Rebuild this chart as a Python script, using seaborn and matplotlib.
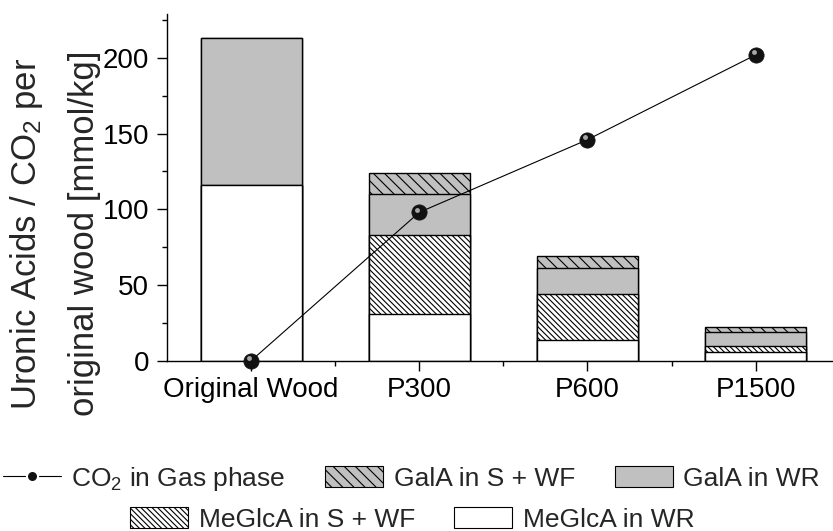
import numpy as np
import pandas as pd
import seaborn as sns
import matplotlib
matplotlib.use("Agg")
import matplotlib.pyplot as plt
from matplotlib.patches import Patch
from matplotlib.lines import Line2D
from matplotlib.ticker import MultipleLocator, FixedLocator
from matplotlib.transforms import offset_copy

# ---- data ----
samples = ["Original Wood", "P300", "P600", "P1500"]
meglca_wr = [116, 31, 14, 6]
meglca_swf = [0, 52, 30, 4]
gala_wr = [97, 27, 17, 9]
gala_swf = [0, 14, 8, 3]
co2_gas = [0, 98, 146, 202]

sns.set_theme(style="ticks")
plt.rcParams["font.family"] = ["Liberation Sans", "DejaVu Sans"]
plt.rcParams["mathtext.fontset"] = "custom"
plt.rcParams["mathtext.rm"] = "Liberation Sans"
plt.rcParams["mathtext.it"] = "Liberation Sans"
plt.rcParams["hatch.linewidth"] = 0.8
plt.rcParams["hatch.color"] = "black"

fig = plt.figure(figsize=(8.33, 5.31), dpi=100)
ax = fig.add_axes([0.2005, 0.3207, 0.7995, 0.6529])

GRAY = "#c0c0c0"
H_GALA = "\\\\\\"
H_MEG = "\\\\\\\\\\\\"
layers = [
    ("MeGlcA in WR", meglca_wr, "white", ""),
    ("MeGlcA in S + WF", meglca_swf, "white", H_MEG),
    ("GalA in WR", gala_wr, GRAY, ""),
    ("GalA in S + WF", gala_swf, GRAY, H_GALA),
]
cum = np.cumsum([np.array(l[1], dtype=float) for l in layers], axis=0)

# draw cumulative bars from the top layer down, so each lower layer overlays
for i in reversed(range(len(layers))):
    name, vals, col, hatch = layers[i]
    df = pd.DataFrame({"sample": samples, "value": cum[i]})
    sns.barplot(data=df, x="sample", y="value", order=samples, color=col,
                saturation=1, width=0.6, edgecolor="black", linewidth=1.0,
                hatch=hatch, errorbar=None, ax=ax, zorder=2)

# CO2 line
dfc = pd.DataFrame({"sample": samples, "co2": co2_gas})
sns.pointplot(data=dfc, x="sample", y="co2", order=samples, color="black",
              markers="o", linestyles="-", errorbar=None, ax=ax,
              markersize=11, markerfacecolor="#121212", markeredgecolor="#121212",
              markeredgewidth=0.5, linewidth=0.8, zorder=5)
for ln in ax.lines:
    ln.set_clip_on(False)
    ln.set_zorder(5)
hl = offset_copy(ax.transData, fig=fig, x=-2, y=2.5, units="dots")
ax.plot(np.arange(len(samples)), co2_gas, linestyle="none", marker="o",
        ms=3.5, color="#a8a8a8", mec="none", transform=hl, zorder=6, clip_on=False)

ax.set_xlim(-0.5, 3.46)
ax.set_ylim(0, 229)
ax.yaxis.set_major_locator(MultipleLocator(50))
ax.yaxis.set_minor_locator(MultipleLocator(25))
ax.xaxis.set_minor_locator(FixedLocator([0.5, 1.5, 2.5]))
ax.set_xlabel("")
ax.set_ylabel("")
sns.despine(ax=ax)
for s in ("left", "bottom"):
    ax.spines[s].set_linewidth(1.0)
    ax.spines[s].set_color("black")
ax.tick_params(which="major", direction="out", length=7, width=1,
               labelsize=20, color="black", labelcolor="black")
ax.tick_params(which="minor", direction="out", length=3.6, width=1, color="black")
ax.tick_params(axis="y", which="major", pad=6)
ax.tick_params(axis="x", which="major", pad=4.5)

# two-line y label
ylab1 = "Uronic Acids / CO$_\\mathregular{2}$ per"
ylab2 = "original wood [mmol/kg]"
fig.text(26.5 / 833, 0.56, ylab1, rotation=90, ha="center", va="center", fontsize=25)
fig.text(84.5 / 833, 0.56, ylab2, rotation=90, ha="center", va="center", fontsize=25)

# legends
h_co2 = Line2D([], [], color="black", lw=0.8, marker="o", ms=8,
               mfc="#121212", mec="white", mew=1.5)
h_gala_swf = Patch(facecolor=GRAY, edgecolor="black", hatch=H_GALA, lw=0.8)
h_gala_wr = Patch(facecolor=GRAY, edgecolor="black", lw=0.8)
h_meg_swf = Patch(facecolor="white", edgecolor="black", hatch=H_MEG, lw=0.8)
h_meg_wr = Patch(facecolor="white", edgecolor="black", lw=0.8)

common = dict(loc="center", frameon=False, fontsize=19, handlelength=2.2,
              handleheight=0.85, handletextpad=0.4, columnspacing=1.5,
              borderaxespad=0, borderpad=0)
fig.legend([h_co2, h_gala_swf, h_gala_wr],
           ["CO$_\\mathregular{2}$ in Gas phase", "GalA in S + WF", "GalA in WR"],
           ncol=3, bbox_to_anchor=(0.494, 0.098), **common)
fig.legend([h_meg_swf, h_meg_wr], ["MeGlcA in S + WF", "MeGlcA in WR"],
           ncol=2, bbox_to_anchor=(0.495, 0.022), **common)

fig.savefig("out.png", dpi=100)
